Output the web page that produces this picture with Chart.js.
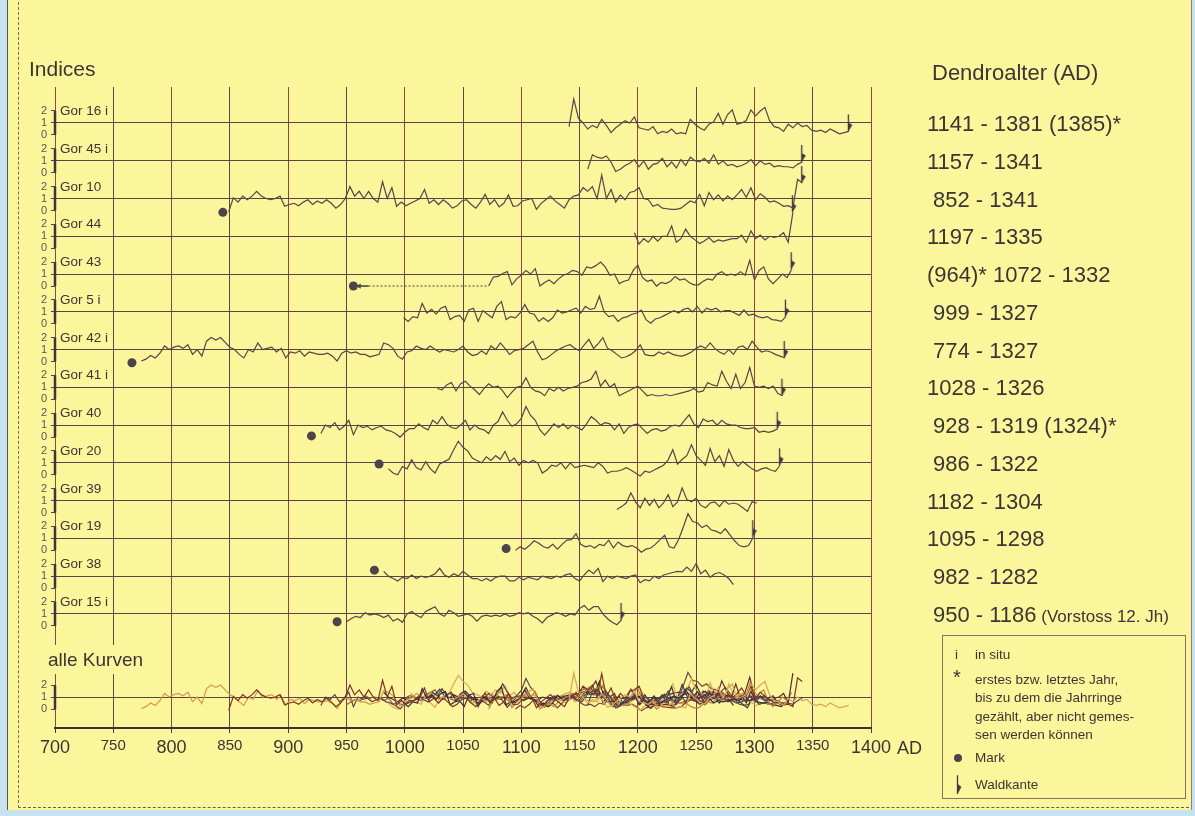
<!DOCTYPE html>
<html>
<head>
<meta charset="utf-8">
<title>Dendroalter</title>
<script src="https://cdn.jsdelivr.net/npm/chart.js@4.4.0/dist/chart.umd.min.js"></script>
<style>
  html, body { margin: 0; padding: 0; }
  body { width: 1195px; height: 816px; background: #c6e2ef; position: relative; overflow: hidden;
         font-family: 'Liberation Sans', Arial, sans-serif; }
  #panel { position: absolute; left: 7px; top: 0; width: 1183px; height: 810px; background: #fbf59b;
           border-left: 1px solid #5a5058; border-right: 1px solid #8a8080; }
  #frame { position: absolute; left: 18px; top: 2px; width: 1170px; height: 805px;
           border-left: 1px dashed #8d5f55; border-bottom: 1px dashed #6d5a55; }
  #chart { position: absolute; left: 0; top: 0; }
  #notes { position: absolute; left: 0; top: 0; width: 1195px; height: 816px; pointer-events: none; }
  .lbl { position: absolute; line-height: 1; transform: translateY(-50%); white-space: pre; color: #3b3535; }
  #legend { position: absolute; left: 942px; top: 635px; width: 244px; height: 164px;
            border: 1px solid #8a7062; box-sizing: border-box; }
</style>
</head>
<body>
<div id="panel"></div>
<div id="frame"></div>
<canvas id="chart" width="1195" height="816"></canvas>
<div id="notes"></div>
<script>
// ring-width index series, one value every 4 years from the first sampled year
const STEP = 4;

const bandNames = ['Gor 16 i', 'Gor 45 i', 'Gor 10', 'Gor 44', 'Gor 43', 'Gor 5 i', 'Gor 42 i',
  'Gor 41 i', 'Gor 40', 'Gor 20', 'Gor 39', 'Gor 19', 'Gor 38', 'Gor 15 i'];

const dateLabels = ['1141 - 1381 (1385)*', '1157 - 1341', '852 - 1341', '1197 - 1335',
  '(964)* 1072 - 1332', '999 - 1327', '774 - 1327', '1028 - 1326', '928 - 1319 (1324)*',
  '986 - 1322', '1182 - 1304', '1095 - 1298', '982 - 1282', '950 - 1186'];
const dateNotes = ['', '', '', '', '', '', '', '', '', '', '', '', '', '(Vorstoss 12. Jh)'];

const curveStart = [1141, 1157, 849, 1197, 1072, 999, 774, 1028, 928, 986, 1182, 1095, 982, 950];

// pith ("Mark") year and index value, null where there is none
const markYears = [null, null, 852, null, 964, null, 774, null, 928, 986, null, 1095, 982, 950];
const markValues = [null, null, -0.15, null, 0.0, null, -0.1, null, 0.1, 0.9, null, 0.15, 1.5, 0.35];
// last ring under the bark ("Waldkante")
const waldkante = [true, true, true, true, true, true, true, true, true, true, false, true, false, true];

const xTicks = [700, 750, 800, 850, 900, 950, 1000, 1050, 1100, 1150, 1200, 1250, 1300, 1350, 1400];

const gor16i = [0.7, 3.0, 1.4, 1.0, 0.5, 0.8, 0.6, 1.3, 0.8, 0.2,
  0.6, 0.9, 1.2, 1.0, 1.5, 0.6, 0.5, 0.4, 0.7, 0.1,
  0.3, 0.2, 0.5, 0.1, 0.2, 0.1, 1.3, 0.9, 0.6, 0.4,
  0.9, 1.1, 1.8, 0.9, 1.7, 2.1, 0.9, 1.0, 1.2, 2.1,
  1.6, 2.0, 2.3, 1.2, 0.7, 0.6, 0.3, 0.9, 0.6, 1.0,
  0.7, 0.8, 0.4, 0.3, 0.4, 0.2, 0.5, 0.3, 0.1, 0.2,
  0.3];
const gor45i = [0.3, 1.5, 1.3, 1.2, 1.4, 0.9, 0.1, 0.3, 0.6, 0.8,
  1.1, 0.5, 1.0, 0.3, 0.7, 0.8, 1.2, 0.5, 0.9, 0.4,
  1.1, 0.6, 1.3, 1.0, 0.9, 1.2, 0.8, 1.5, 0.7, 1.0,
  0.6, 0.7, 0.5, 0.6, 0.8, 1.1, 0.6, 1.0, 0.7, 0.8,
  0.5, 0.6, 0.5, 0.5, 0.4, 0.7, 0.9];
const gor10 = [-0.1, 1.05, 0.7, 1.2, 0.9, 1.2, 1.6, 1.2, 1.0, 0.9,
  1.0, 1.2, 0.35, 0.5, 0.6, 0.4, 0.7, 0.9, 0.5, 0.8,
  0.6, 0.9, 0.6, 0.2, 0.5, 1.0, 2.0, 1.2, 1.6, 1.0,
  1.6, 1.0, 0.7, 2.4, 1.0, 1.9, 0.35, 0.7, 0.4, 0.6,
  0.8, 1.0, 1.75, 0.6, 0.9, 0.5, 0.9, 0.6, 0.2, 0.4,
  0.8, 0.9, 0.5, 0.2, 0.7, 1.35, 0.5, 0.9, 0.3, 0.6,
  1.3, 0.35, 0.4, 0.8, 0.9, 1.0, 0.1, 0.6, 0.9, 1.2,
  0.8, 0.5, 0.2, 0.9, 1.2, 1.3, 1.9, 1.6, 2.0, 1.0,
  2.95, 1.0, 1.75, 0.7, 1.3, 0.9, 1.5, 1.6, 1.9, 1.0,
  0.9, 0.35, 0.5, 0.2, 0.15, 0.1, 0.1, 0.2, 0.5, 0.8,
  0.65, 1.35, 0.4, 1.5, 0.9, 1.3, 0.8, 1.2, 0.9, 1.3,
  1.75, 1.1, 1.9, 0.9, 1.4, 1.1, 0.7, 0.8, 0.6, 0.35,
  0.4, 0.2, 2.6, 2.3];
const gor44 = [1.3, 0.35, 0.8, 0.5, 1.0, 0.6, 1.0, 1.0, 1.85, 0.5,
  0.8, 1.6, 1.0, 0.7, 0.4, 0.6, 0.9, 0.5, 0.7, 0.6,
  0.7, 0.8, 0.8, 1.1, 0.5, 1.45, 0.8, 1.1, 0.7, 1.0,
  0.9, 1.0, 1.3, 0.5, 3.0];
const gor43 = [0.0, 0.75, 0.8, 1.05, 1.2, 0.1, 0.6, 0.9, 1.3, 1.0,
  1.45, 0.0, 0.3, 0.5, 0.2, 0.6, 0.9, 1.05, 1.3, 1.2,
  0.9, 1.6, 1.5, 1.7, 2.0, 1.6, 0.9, 1.0, 0.2, 0.4,
  0.5, 1.3, 1.75, 0.7, 0.4, 0.5, 0.0, 0.3, 0.2, 0.4,
  0.8, 0.5, 0.6, 0.3, 0.1, 0.1, 0.4, 0.6, 0.5, 1.0,
  1.2, 0.9, 1.0, 0.9, 1.2, 0.9, 2.15, 0.5, 1.3, 1.6,
  0.6, 0.2, 0.6, 1.0, 0.7, 1.4];
const gor5i = [0.5, 0.2, 0.6, 0.5, 1.7, 0.9, 1.2, 0.8, 1.3, 1.45,
  0.35, 0.6, 0.7, 0.2, 1.15, 1.3, 0.2, 1.1, 0.8, 0.5,
  1.45, 1.85, 0.35, 0.6, 0.5, 0.9, 1.6, 0.9, 0.8, 0.2,
  0.5, 0.2, 0.5, 1.15, 0.9, 1.0, 1.15, 1.3, 0.9, 1.45,
  1.2, 1.3, 2.3, 1.0, 0.6, 0.7, 0.2, 0.5, 0.6, 0.8,
  0.9, 1.15, 0.35, 0.05, 0.4, 0.5, 0.7, 0.9, 1.1, 0.9,
  1.2, 1.3, 1.0, 1.45, 0.9, 1.3, 1.15, 1.3, 1.0, 1.1,
  1.1, 0.9, 0.7, 1.15, 0.7, 0.8, 0.6, 0.5, 0.6, 0.35,
  0.3, 0.2, 0.6];
const gor42i = [0.05, 0.2, 0.5, 0.3, 0.7, 1.3, 1.0, 1.2, 1.3, 1.1,
  1.4, 0.6, 1.0, 0.45, 1.7, 2.0, 1.8, 2.0, 1.6, 1.2,
  1.0, 0.6, 0.3, 1.0, 0.8, 1.55, 1.0, 1.1, 1.2, 0.8,
  1.1, 0.3, 0.8, 0.7, 0.9, 0.45, 0.8, 0.7, 0.6, 0.6,
  0.7, 0.45, 0.05, 0.7, 0.9, 0.7, 0.8, 0.6, 0.6, 0.4,
  0.5, 0.6, 1.55, 1.4, 1.1, 0.45, 0.2, 0.8, 0.9, 1.3,
  1.1, 1.0, 1.3, 1.0, 0.8, 1.0, 0.9, 0.8, 1.0, 1.3,
  0.8, 0.5, 0.6, 0.9, 0.6, 1.3, 1.0, 1.55, 1.1, 0.6,
  0.9, 1.0, 1.1, 1.4, 1.7, 0.8, 0.15, 0.3, 0.6, 0.9,
  1.1, 1.3, 1.4, 1.1, 0.9, 1.4, 1.85, 1.1, 1.5, 2.0,
  1.1, 0.9, 0.6, 0.3, 0.4, 0.6, 0.9, 1.4, 0.6, 0.5,
  0.5, 0.8, 0.6, 0.8, 0.6, 0.5, 0.45, 0.6, 0.8, 1.1,
  1.3, 1.1, 1.55, 1.1, 0.8, 0.6, 1.0, 0.6, 1.2, 1.3,
  1.0, 1.7, 1.2, 0.8, 0.9, 0.8, 0.6, 0.45, 0.3];
const gor41i = [0.9, 0.8, 1.2, 1.4, 0.7, 1.3, 1.5, 1.1, 0.8, 0.4,
  0.9, 1.3, 1.0, 1.1, 0.7, 0.15, 0.6, 1.0, 1.1, 1.8,
  1.0, 0.7, 0.6, 0.3, 0.9, 0.7, 1.0, 0.7, 0.9, 1.0,
  1.1, 1.4, 1.5, 1.7, 2.35, 1.1, 1.6, 1.0, 1.3, 0.3,
  0.5, 0.7, 0.9, 1.1, 0.7, 0.3, 0.4, 0.3, 0.3, 0.4,
  0.3, 0.4, 0.5, 0.6, 0.7, 0.9, 0.6, 0.7, 1.4, 1.2,
  1.1, 2.35, 1.5, 0.9, 2.1, 0.9, 1.4, 2.65, 1.1, 1.0,
  1.1, 0.9, 1.1, 0.5, 0.3];
const gor40 = [0.3, 1.0, 0.8, 1.2, 0.6, 0.9, 1.4, 0.2, 1.0, 0.8,
  0.9, 0.6, 0.8, 0.9, 0.6, 0.5, 0.3, 0.0, 0.4, 0.7,
  0.7, 1.1, 0.8, 0.6, 1.4, 1.1, 1.7, 1.1, 0.8, 0.7,
  1.0, 1.4, 0.6, 1.0, 0.7, 0.6, 0.3, 1.0, 1.3, 2.1,
  1.4, 0.9, 1.1, 1.55, 2.55, 1.8, 1.4, 0.6, 0.17, 0.6,
  1.1, 0.8, 1.1, 0.7, 1.0, 0.8, 0.6, 1.1, 1.7, 1.4,
  1.0, 1.2, 1.1, 0.6, 1.1, 0.3, 0.8, 1.0, 1.1, 0.7,
  0.3, 0.6, 0.7, 0.5, 0.6, 0.9, 1.0, 0.9, 1.4, 1.85,
  1.1, 0.8, 1.5, 1.3, 1.4, 1.0, 1.4, 1.1, 1.0, 1.0,
  0.8, 0.7, 0.7, 0.8, 0.4, 0.5, 0.4, 0.5, 0.7];
const gor20 = [0.5, 0.15, 0.0, 0.7, 0.5, 1.25, 0.6, 0.4, 1.1, 0.5,
  0.15, 0.9, 1.1, 1.3, 2.1, 2.8, 2.3, 2.0, 1.4, 1.2,
  1.0, 1.5, 1.2, 1.6, 1.3, 1.95, 1.1, 1.4, 0.8, 1.2,
  1.0, 1.2, 1.0, 0.15, 0.4, 0.8, 0.7, 1.0, 0.5, 1.0,
  0.6, 0.7, 0.8, 0.7, 0.6, 1.0, 0.7, 0.15, 0.3, 0.3,
  0.4, 0.6, 0.4, 0.15, -0.1, 0.3, 0.2, 0.4, 0.6, 0.8,
  1.25, 2.1, 0.9, 1.3, 1.6, 2.5, 1.6, 1.2, 0.8, 2.2,
  1.1, 1.6, 0.7, 2.1, 1.2, 0.7, 1.1, 0.8, 0.5, 0.3,
  0.5, 0.6, 0.4, 0.3, 0.8];
const gor39 = [0.25, 0.5, 0.8, 1.65, 0.9, 0.4, 1.2, 0.6, 1.1, 0.4,
  0.8, 1.5, 0.5, 0.9, 2.05, 1.1, 0.9, 1.2, 0.6, 0.4,
  0.8, 0.9, 0.5, 1.0, 0.7, 0.8, 0.7, 0.4, 0.1, 0.9,
  0.8];
const gor19 = [0.0, 0.3, 0.1, 0.4, 0.8, 0.6, 0.3, 0.2, 0.5, 0.1,
  0.5, 0.85, 0.9, 1.4, 0.5, 0.3, 0.4, 0.2, 0.5, 0.4,
  0.85, 0.2, 0.7, 0.4, 0.3, 0.4, 0.2, -0.15, 0.1, 0.2,
  0.5, 0.9, 1.25, 0.3, 0.2, 0.9, 1.95, 3.05, 2.4, 2.3,
  1.9, 2.1, 1.7, 1.6, 1.4, 1.8, 1.3, 0.8, 0.4, 0.3,
  0.4, 1.1];
const gor38 = [1.4, 1.0, 0.8, 0.6, 0.9, 0.8, 1.1, 0.8, 1.0, 0.9,
  1.0, 1.2, 1.65, 1.1, 0.9, 1.2, 1.0, 1.4, 1.1, 0.8,
  0.8, 0.6, 0.8, 0.6, 0.9, 1.0, 1.0, 0.6, 0.6, 0.9,
  0.7, 0.9, 0.8, 0.7, 1.0, 0.9, 0.8, 1.0, 0.9, 1.1,
  1.2, 0.8, 0.6, 1.1, 1.5, 1.2, 1.65, 0.55, 1.0, 0.8,
  1.0, 0.9, 0.8, 1.0, 1.1, 0.45, 0.7, 0.6, 1.0, 0.8,
  1.1, 1.2, 1.3, 1.4, 1.35, 1.75, 1.4, 2.05, 1.2, 1.5,
  0.9, 1.2, 1.3, 1.1, 0.8, 0.3];
const gor15i = [0.35, 0.6, 0.8, 0.7, 1.1, 0.9, 1.0, 0.9, 0.7, 0.9,
  0.4, 0.6, 0.3, 1.0, 1.2, 0.9, 0.7, 1.2, 1.4, 1.6,
  1.0, 0.8, 1.3, 1.1, 0.8, 0.9, 1.0, 0.8, 0.4, 0.8,
  0.9, 0.8, 0.9, 0.8, 1.0, 0.8, 0.9, 1.1, 1.0, 1.1,
  0.8, 0.6, 0.25, 0.7, 0.9, 1.1, 1.0, 0.8, 1.0, 0.9,
  1.45, 1.7, 1.3, 1.6, 1.6, 1.0, 0.6, 0.3, 0.1, 0.5];

const series = [gor16i, gor45i, gor10, gor44, gor43, gor5i, gor42i, gor41i, gor40, gor20, gor39, gor19, gor38, gor15i];

// colours of the overlaid curves in the "alle Kurven" strip
const overlayColors = ['#d9a556', '#4e3f5c', '#7e3428', '#40323f', '#c0813c', '#352b3a', '#d49a48',
  '#55343a', '#5e4152', '#e0a860', '#443a4c', '#70483a', '#34343f', '#866448'];

// vertical layout in index units (12 px per unit)
const Y_MAX = 53.42;
const TOP_LINE = 50.42;
const BAND_GAP = 3.147;
const ALL_LINE = 2.58;
const MARK_GAP = 8;

const PANEL_YELLOW = '#fbf59b';
const CURVE_COLOR = '#5e4248';

const bandLine = i => TOP_LINE - i * BAND_GAP;
const bandLines = bandNames.map((_, i) => bandLine(i)).concat([ALL_LINE]);

const yTickValues = [];
const yTickLabels = [];
bandLines.slice().reverse().forEach(L => {
  [0, 1, 2].forEach(k => { yTickValues.push(L - 1 + k); yTickLabels.push(String(k)); });
});

function waldkanteIcon() {
  const c = document.createElement('canvas');
  c.width = 10; c.height = 36;
  const g = c.getContext('2d');
  g.strokeStyle = '#3f3840'; g.fillStyle = '#3f3840'; g.lineWidth = 1.3;
  g.beginPath(); g.moveTo(4.5, 1); g.lineTo(4.5, 18); g.stroke();
  g.beginPath(); g.moveTo(4.5, 9); g.lineTo(8.5, 11.5); g.lineTo(4.5, 18); g.closePath(); g.fill();
  return c;
}
const wkIcon = waldkanteIcon();

const datasets = [];

series.forEach((vals, i) => {
  datasets.push({
    data: vals.map((v, k) => ({ x: curveStart[i] + k * STEP, y: bandLine(i) + v - 1 })),
    borderColor: CURVE_COLOR, borderWidth: 1.2, pointRadius: 0, tension: 0
  });
});

series.forEach((vals, i) => {
  datasets.push({
    data: vals.map((v, k) => ({ x: curveStart[i] + k * STEP, y: ALL_LINE + v - 1 })),
    borderColor: overlayColors[i], borderWidth: 1.2, pointRadius: 0, tension: 0
  });
});

// Gor 43: counted but unmeasured rings back to the pith
const g43 = 4;
const g43y = bandLine(g43) + markValues[g43] - 1;
datasets.push({
  data: [{ x: markYears[g43] - MARK_GAP + 5, y: g43y }, { x: markYears[g43] - MARK_GAP + 13, y: g43y }],
  borderColor: '#4a4448', borderWidth: 1.6, pointStyle: 'triangle', rotation: 270,
  pointRadius: [3, 0], pointBackgroundColor: '#4a4448', pointBorderWidth: 0
});
datasets.push({
  data: [{ x: markYears[g43] - MARK_GAP + 13, y: g43y }, { x: curveStart[g43], y: g43y }],
  borderColor: '#4a4448', borderWidth: 1, borderDash: [2, 2], pointRadius: 0
});

datasets.push({
  data: markYears.map((yr, i) => yr === null ? null : { x: yr - MARK_GAP, y: bandLine(i) + markValues[i] - 1 })
    .filter(p => p),
  showLine: false, pointRadius: 4.5, pointBackgroundColor: '#4b4448', pointBorderWidth: 0
});

datasets.push({
  data: series.map((vals, i) => waldkante[i]
    ? { x: curveStart[i] + (vals.length - 1) * STEP, y: bandLine(i) + vals[vals.length - 1] - 1 } : null)
    .filter(p => p),
  showLine: false, pointStyle: wkIcon, pointRadius: 5
});

// thick axis stubs spanning 0..2 of every band
const bandAxes = {
  id: 'bandAxes',
  beforeDatasetsDraw(chart) {
    const { ctx, scales: { x, y } } = chart;
    ctx.save();
    ctx.strokeStyle = '#3e3440';
    ctx.lineWidth = 2.5;
    bandLines.forEach(L => {
      ctx.beginPath();
      ctx.moveTo(x.left, y.getPixelForValue(L + 1));
      ctx.lineTo(x.left, y.getPixelForValue(L - 1));
      ctx.stroke();
    });
    ctx.restore();
  }
};

Chart.defaults.font.family = "'Liberation Sans', Arial, sans-serif";

const chart = new Chart(document.getElementById('chart'), {
  type: 'line',
  data: { datasets },
  options: {
    responsive: false,
    animation: false,
    events: [],
    layout: { padding: { left: 25, right: 324, top: 87, bottom: 48 } },
    plugins: { legend: { display: false }, tooltip: { enabled: false } },
    scales: {
      x: {
        type: 'linear', min: 700, max: 1400,
        afterBuildTicks: s => { s.ticks = xTicks.map(v => ({ value: v })); },
        afterFit: s => { s.height = 40; },
        ticks: {
          autoSkip: false, maxRotation: 0, padding: 4, color: '#3a3535',
          callback: v => String(v),
          font: c => ({ size: c.tick && c.tick.value % 100 === 0 ? 18 : 15 })
        },
        grid: {
          color: c => (c.tick && c.tick.value % 100 === 0 ? '#8c4a3c' : '#5e474c'),
          tickColor: '#4a4044', tickLength: 5, lineWidth: 1
        },
        border: { display: true, color: '#3a3438', width: 2 }
      },
      y: {
        type: 'linear', min: 0, max: Y_MAX,
        afterBuildTicks: s => { s.ticks = yTickValues.map(v => ({ value: v })); },
        afterFit: s => { s.width = 30; },
        ticks: {
          autoSkip: false, padding: 4, color: '#5a5555', font: { size: 11 },
          callback: (v, i) => yTickLabels[i]
        },
        grid: {
          color: c => (c.index % 3 === 1 ? '#4f4848' : 'rgba(0,0,0,0)'),
          tickColor: '#4f4848', tickLength: 4, lineWidth: 1
        },
        border: { display: false }
      }
    }
  },
  plugins: [bandAxes]
});

// text annotations placed from the chart's own scales
const notes = document.getElementById('notes');
function addText(txt, left, top, size, extra) {
  const d = document.createElement('div');
  d.className = 'lbl';
  d.textContent = txt;
  d.style.left = left + 'px';
  d.style.top = top + 'px';
  d.style.fontSize = size + 'px';
  if (extra) Object.assign(d.style, extra);
  notes.appendChild(d);
  return d;
}

const xs = chart.scales.x, ys = chart.scales.y;

addText('Indices', 29, 68, 21);
addText('Dendroalter (AD)', 932, 73, 22);

bandNames.forEach((name, i) => {
  addText(name, xs.left + 5, ys.getPixelForValue(bandLine(i) + 1), 13.5);
  const indent = /^\d{3}\s/.test(dateLabels[i]) ? 6 : 0;
  const d = addText(dateLabels[i], 927 + indent, ys.getPixelForValue(bandLine(i)) + 1, 22);
  if (dateNotes[i]) {
    const s = document.createElement('span');
    s.textContent = ' ' + dateNotes[i];
    s.style.fontSize = '17px';
    d.appendChild(s);
  }
});

const allBox = document.createElement('div');
Object.assign(allBox.style, { position: 'absolute', left: '42px', top: '645px', width: '112px', height: '29px', background: PANEL_YELLOW });
notes.appendChild(allBox);
addText('alle Kurven', 48, 659, 19);

addText('AD', xs.getPixelForValue(1400) + 26, 748, 18);

// legend box
const legend = document.createElement('div');
legend.id = 'legend';
notes.appendChild(legend);
addText('i', 955, 655, 13.5);
addText('in situ', 975, 655, 13.5);
addText('*', 953, 677, 20);
['erstes bzw. letztes Jahr,', 'bis zu dem die Jahrringe', 'gezählt, aber nicht gemes-', 'sen werden können']
  .forEach((t, k) => addText(t, 975, 680 + k * 18.3, 13.5));
const dot = document.createElement('div');
Object.assign(dot.style, { position: 'absolute', left: '954px', top: '754px', width: '8px', height: '8px', borderRadius: '50%', background: '#4b4448' });
notes.appendChild(dot);
addText('Mark', 975, 758, 13.5);
const wk = document.createElement('canvas');
wk.width = 10; wk.height = 22;
wk.getContext('2d').drawImage(wkIcon, 0, 0, 10, 18, 0, 2, 10, 20);
Object.assign(wk.style, { position: 'absolute', left: '953px', top: '772px' });
notes.appendChild(wk);
addText('Waldkante', 975, 785, 13.5);
</script>
</body>
</html>
